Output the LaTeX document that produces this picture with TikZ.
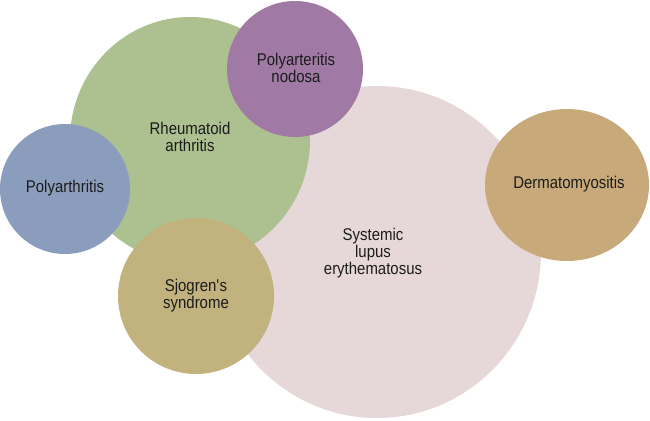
\documentclass[tikz,border=0pt]{standalone}
\usepackage{fontspec}
\setmainfont[FakeStretch=0.88]{Liberation Sans}
\definecolor{cPink}{RGB}{230,215,216}
\definecolor{cGreen}{RGB}{173,192,144}
\definecolor{cPurple}{RGB}{160,122,165}
\definecolor{cBlue}{RGB}{139,157,188}
\definecolor{cSjo}{RGB}{193,178,126}
\definecolor{cDerm}{RGB}{200,170,122}
\definecolor{cText}{RGB}{28,28,28}
\tikzset{
  lbl/.style={align=center, text=cText, inner sep=0pt,
    font=\fontsize{17}{17}\selectfont}
}
\begin{document}
\begin{tikzpicture}[x=1pt,y=-1pt]
\useasboundingbox (0,0) rectangle (650,420);
\fill[cPink] (377,252) ellipse [x radius=164, y radius=166];
\fill[cGreen] (190,140) ellipse [x radius=120, y radius=123];
\fill[cPurple] (295,69) ellipse [x radius=68, y radius=68];
\fill[cBlue] (65,189) ellipse [x radius=65, y radius=65];
\fill[cSjo] (196,296) ellipse [x radius=78, y radius=78];
\fill[cDerm] (567,185) ellipse [x radius=82, y radius=76];
\node[lbl] (sle) at (373,253) {Systemic\\lupus\\erythematosus};
\node[lbl] (ra) at (190,137) {Rheumatoid\\arthritis};
\node[lbl] (pan) at (296,68) {Polyarteritis\\nodosa};
\node[lbl] (pa) at (65,188) {Polyarthritis};
\node[lbl] (sj) at (196,296) {Sjogren\textquotesingle s\\syndrome};
\node[lbl] (dm) at (569,184) {Dermatomyositis};
\end{tikzpicture}
\end{document}
